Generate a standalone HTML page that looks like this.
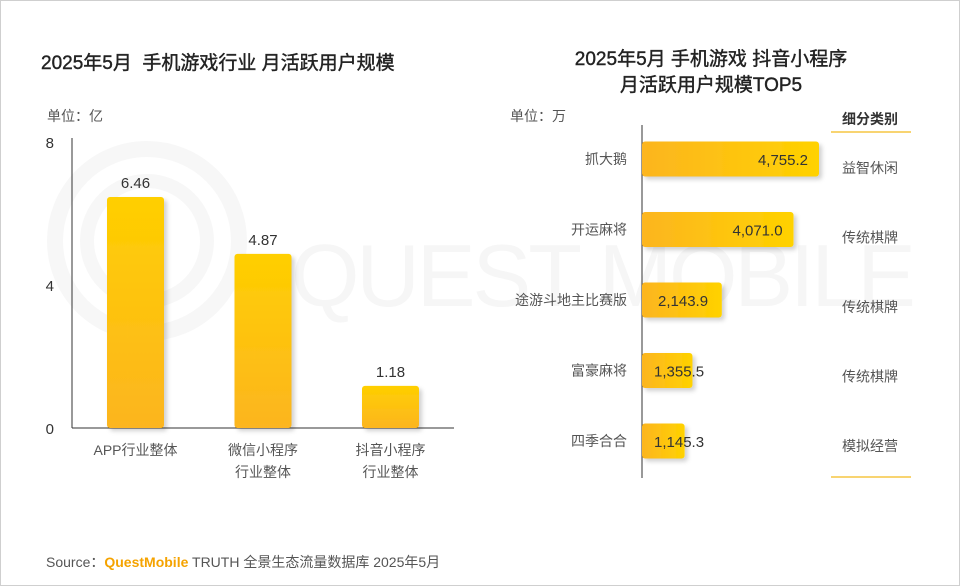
<!DOCTYPE html>
<html><head><meta charset="utf-8">
<style>
body{margin:0;background:#fff;}
#wrap{position:relative;width:958px;height:584px;border:1px solid #cfcfcf;overflow:hidden;font-family:"Liberation Sans","Noto Sans CJK SC",sans-serif;color:#333;}
.t{position:absolute;white-space:nowrap;}
</style></head><body>
<div id="wrap">
<svg width="958" height="584" style="position:absolute;left:0;top:0">
<circle cx="146" cy="240" r="92" fill="none" stroke="#f7f7f7" stroke-width="16"/>
<circle cx="146" cy="240" r="60" fill="none" stroke="#f7f7f7" stroke-width="14"/>
<text x="290" y="305" font-size="88" fill="#f6f6f6" font-family="Liberation Sans" textLength="625">QUEST MOBILE</text>
</svg>
<div class="t" style="left:40px;top:47px;font-size:19px;color:#222;-webkit-text-stroke:0.4px #222">2025年5月&nbsp; 手机游戏行业 月活跃用户规模</div>
<div class="t" style="left:540px;top:46px;width:340px;text-align:center;font-size:19px;color:#222;line-height:26px;-webkit-text-stroke:0.4px #222">2025年5月 手机游戏 抖音小程序<br>月活跃用户规模TOP5</div>
<div class="t" style="left:46px;top:105px;font-size:14px;color:#555">单位：亿</div>
<div class="t" style="left:509px;top:105px;font-size:14px;color:#555">单位：万</div>
<svg id="chart" width="958" height="584" style="position:absolute;left:0;top:0">
<defs>
<linearGradient id="gv" x1="0" y1="0" x2="0" y2="1"><stop offset="0" stop-color="#ffcf00"/><stop offset="1" stop-color="#fcb520"/></linearGradient>
<linearGradient id="gh" x1="0" y1="0" x2="1" y2="0"><stop offset="0" stop-color="#fcb520"/><stop offset="1" stop-color="#ffd200"/></linearGradient>
<filter id="sh" x="-20%" y="-20%" width="150%" height="150%"><feDropShadow dx="3" dy="3" stdDeviation="2" flood-color="#000" flood-opacity="0.18"/></filter>
</defs>
</svg>
<div class="t" style="left:45px;top:551px;font-size:14px;color:#555">Source：<span style="color:#f5a300;font-weight:bold">QuestMobile</span> TRUTH 全景生态流量数据库 2025年5月</div>
</div>
<script>
const leftCats=["APP行业整体","微信小程序\n行业整体","抖音小程序\n行业整体"];
const leftVals=[6.46,4.87,1.18];
const leftLabels=["6.46","4.87","1.18"];
const leftTicks=[0,4,8];
const rightCats=["抓大鹅","开运麻将","途游斗地主比赛版","富豪麻将","四季合合"];
const rightVals=[4755.2,4071.0,2143.9,1355.5,1145.3];
const rightTypes=["益智休闲","传统棋牌","传统棋牌","传统棋牌","模拟经营"];
const NS="http://www.w3.org/2000/svg";
const svg=document.getElementById('chart');
function mk(tag,attrs,parent){const e=document.createElementNS(NS,tag);for(const k in attrs)e.setAttribute(k,attrs[k]);(parent||svg).appendChild(e);return e;}
function txt(x,y,s,size,anchor,fill,parent){const e=mk('text',{x:x,y:y,'font-size':size,'text-anchor':anchor,fill:fill,'font-family':'Liberation Sans, Noto Sans CJK SC, sans-serif'},parent);e.textContent=s;return e;}
const y0=427,yTop=141,yMax=8;
const ly=v=>y0-(v/yMax)*(y0-yTop);
const lx0=71,lx1=453,bw=57;
const lxc=i=>134.5+i*127.5;
let a=mk('line',{x1:lx0,y1:yTop-4,x2:lx0,y2:y0,stroke:'#333','stroke-width':1});

a=mk('line',{x1:lx0,y1:y0,x2:lx1,y2:y0,stroke:'#333','stroke-width':1});

leftTicks.forEach(t=>{const e=txt(53,ly(t)+6,String(t),15,'end','#333');
});
leftVals.forEach((v,i)=>{
 const r=mk('rect',{x:lxc(i)-bw/2,y:ly(v),width:bw,height:y0-ly(v),rx:3,fill:'url(#gv)',filter:'url(#sh)'});
 
 const l=txt(lxc(i),ly(v)-9,leftLabels[i],15,'middle','#333');
 
 leftCats[i].split('\n').forEach((s,j)=>{const c=txt(lxc(i),454+j*22,s,14,'middle','#555');
 });
});
const rx0=641,rScale=177/4755.2,bh=35;
const rxw=v=>v*rScale;
const ryc=i=>158+i*70.5;
a=mk('line',{x1:rx0,y1:124,x2:rx0,y2:477,stroke:'#333','stroke-width':1});

rightVals.forEach((v,i)=>{
 const r=mk('rect',{x:rx0,y:ryc(i)-bh/2,width:rxw(v),height:bh,rx:3,fill:'url(#gh)',filter:'url(#sh)'});
 
 const lbl=v.toLocaleString('en-US',{minimumFractionDigits:1,maximumFractionDigits:1});
 const w=rxw(v);
 const l= w>120 ? txt(rx0+w-11,ryc(i)+6,lbl,15,'end','#333') : txt(rx0+(w>70?16:12),ryc(i)+6,lbl,15,'start','#333');
 
 const c=txt(626,ryc(i)+5,rightCats[i],14,'end','#555');
 
 const ty=txt(869,ryc(i)+14-i*1,rightTypes[i],14,'middle','#555');
 
});
let h=txt(869,123,'细分类别',14,'middle','#333');h.setAttribute('font-weight','bold');

a=mk('line',{x1:830,y1:131,x2:910,y2:131,stroke:'#f5c542','stroke-width':1.5});

a=mk('line',{x1:830,y1:476,x2:910,y2:476,stroke:'#f5c542','stroke-width':1.5});

</script>
</body></html>
